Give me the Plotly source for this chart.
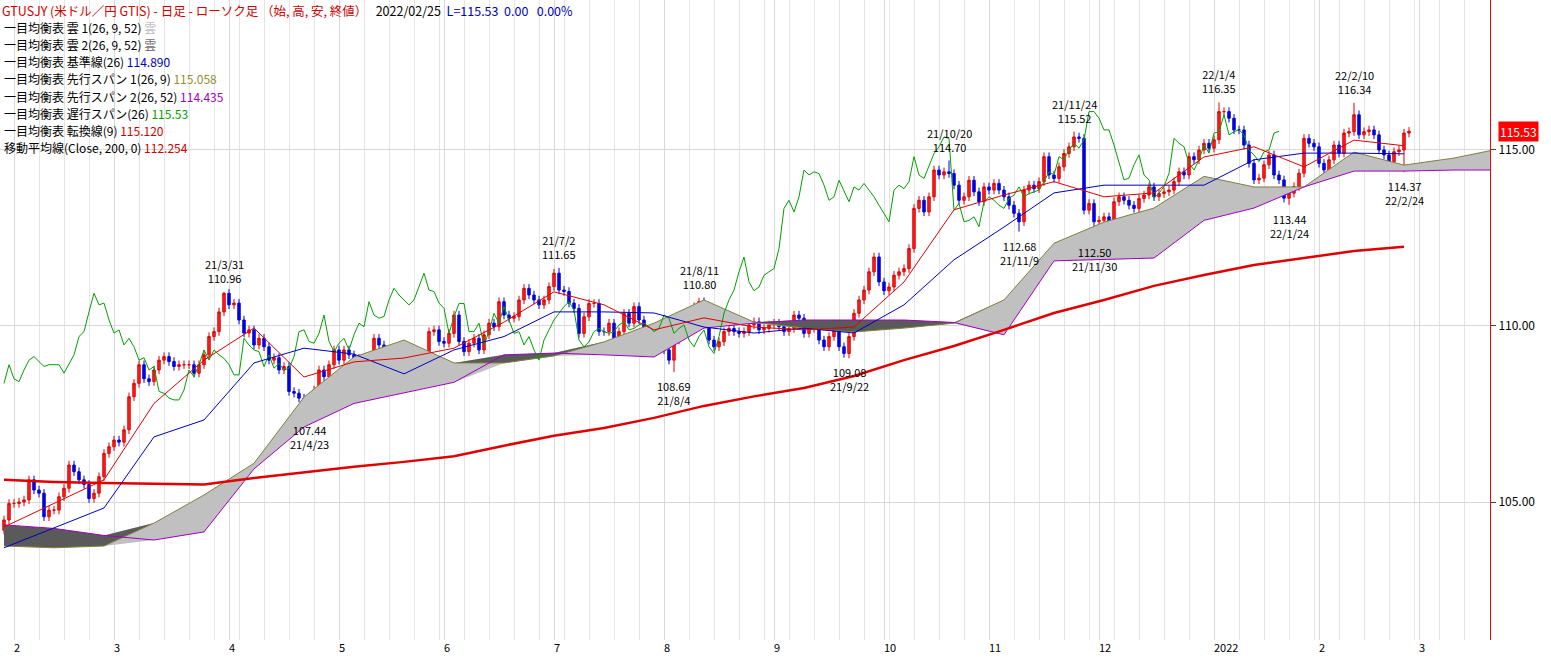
import plotly.graph_objects as go
import pandas as pd

# daily closes (USD/JPY), oldest first, last = 2022/02/25
closes = [
    104.49, 104.96, 104.96, 105.00, 105.06, 105.63, 105.34, 105.25, 104.58, 104.77,
    104.77, 105.15, 105.39, 106.05, 105.86, 105.63, 105.50, 105.10, 105.25, 105.72,
    106.38, 106.57, 106.76, 106.70, 107.05, 107.99, 108.37, 108.90, 108.50, 108.42,
    108.75, 109.03, 109.13, 108.99, 108.85, 108.90, 108.90, 108.90, 108.66, 108.90,
    109.18, 109.70, 109.84, 110.40, 110.93, 110.60, 110.65, 110.17, 109.80, 109.89,
    109.46, 109.65, 109.41, 109.03, 109.10, 108.75, 108.85, 108.14, 108.09, 107.95,
    107.90, 107.90, 108.18, 108.75, 108.56, 108.90, 109.32, 109.03, 109.32, 109.18,
    109.08, 108.90, 108.61, 108.61, 109.65, 109.46, 109.32, 109.27, 108.85, 109.18,
    108.80, 108.94, 108.75, 108.80, 109.13, 109.84, 109.89, 109.56, 109.51, 109.79,
    110.31, 109.56, 109.27, 109.51, 109.65, 109.32, 109.75, 110.08, 109.98, 110.69,
    110.31, 110.22, 110.27, 110.74, 111.07, 110.88, 110.74, 110.60, 110.74, 111.12,
    111.50, 111.02, 110.98, 110.65, 110.50, 109.79,
    110.26, 110.64, 110.64, 109.84, 109.84, 110.08, 109.46, 109.84, 110.36, 110.08,
    110.55, 110.17, 109.79, 109.84, 109.46, 109.70, 109.32, 109.03, 109.60, 109.89,
    110.17, 110.36, 110.55, 110.69, 110.45, 109.60, 109.41, 109.55, 109.84, 109.93,
    109.84, 109.79, 109.84, 110.03, 110.12, 109.89, 109.93, 110.03, 110.08, 109.98,
    109.84, 109.93, 110.31, 110.22, 109.79, 109.93, 110.03, 109.60, 109.41, 109.70,
    109.89, 109.41, 109.22, 109.70, 110.36, 110.74, 111.02, 111.54, 111.96,
    111.25, 111.00, 111.11, 111.44, 111.54, 111.63, 112.20, 113.34, 113.57, 113.24,
    113.67, 114.43, 114.29, 114.38, 114.33, 114.00, 113.57, 113.67, 114.14, 113.81,
    113.53, 113.95, 113.86, 114.05, 113.86, 113.67, 113.43, 113.20, 112.96, 113.86,
    114.00, 113.90, 114.10, 114.81, 114.29, 114.19, 114.52, 114.90, 115.09, 115.37,
    115.33, 113.29, 113.48, 112.96, 113.00, 113.10, 112.82, 113.53, 113.67, 113.57,
    113.43, 113.34, 113.62, 113.72, 113.95, 113.67, 113.76, 113.81, 113.86, 114.10,
    114.38,
    114.29, 114.81, 114.72, 115.00, 115.19, 115.05, 115.29, 116.09, 116.09, 115.90,
    115.57, 115.57, 115.14, 114.62, 114.15, 114.20, 114.58, 114.86, 114.29, 114.15,
    113.63, 113.77, 113.96, 114.34, 115.33, 115.19, 115.09, 114.62, 114.43, 114.72,
    115.14, 114.91, 115.48, 115.52, 116.00, 115.43, 115.52, 115.57, 115.43, 115.00,
    114.86, 114.67, 114.95, 115.00, 115.48, 115.53,
]
first_open = 104.20

# labelled highs / lows
extremes = {
    "2021-03-31": ("high", 110.96), "2021-04-23": ("low", 107.44),
    "2021-07-02": ("high", 111.65), "2021-08-04": ("low", 108.69),
    "2021-08-11": ("high", 110.80), "2021-09-22": ("low", 109.08),
    "2021-10-20": ("high", 114.70), "2021-11-09": ("low", 112.68),
    "2021-11-24": ("high", 115.52), "2021-11-30": ("low", 112.50),
    "2022-01-04": ("high", 116.35), "2022-01-24": ("low", 113.44),
    "2022-02-10": ("high", 116.34), "2022-02-24": ("low", 114.37),
}

# indicator lines read every 10 trading days
tenkan = [104.29, 104.97, 105.63, 107.80, 109.03, 109.94, 108.55, 108.98, 109.09, 109.37,
          110.11, 110.97, 110.60, 109.89, 110.23, 109.97, 109.89, 109.97, 111.25, 113.30,
          113.72, 114.10, 113.67, 113.78, 114.80, 115.09, 114.52, 115.28, 115.12]
kijun = [103.70, 104.26, 104.83, 106.85, 107.33, 108.95, 109.37, 109.20, 108.64, 109.32,
         109.70, 110.40, 110.40, 110.37, 109.97, 109.80, 109.94, 109.80, 110.60, 111.88,
         112.81, 113.78, 114.00, 114.00, 114.00, 114.72, 114.91, 114.91, 114.89]
span_a = [103.75, 103.70, 103.75, 104.40, 105.20, 106.10, 107.98, 109.12, 109.60, 108.95,
          108.95, 109.15, 109.55, 110.08, 110.74, 110.11, 109.94, 109.83, 109.94, 110.08,
          110.74, 112.35, 112.95, 113.35, 114.25, 113.95, 113.95, 114.94, 114.57, 114.77,
          115.06]
span_b = [104.35, 104.25, 104.05, 103.92, 104.15, 105.94, 107.13, 107.80, 108.10, 108.40,
          109.18, 109.23, 109.18, 109.12, 109.94, 110.08, 110.17, 110.17, 110.17, 110.10,
          109.75, 111.85, 111.88, 111.93, 113.00, 113.35, 113.95, 114.40, 114.40, 114.43,
          114.43]
ma200 = [105.63, 105.57, 105.54, 105.52, 105.50, 105.68, 105.85, 106.00, 106.14, 106.30,
         106.60, 106.88, 107.10, 107.39, 107.73, 108.00, 108.24, 108.58, 109.03, 109.43,
         109.89, 110.37, 110.74, 111.14, 111.45, 111.73, 111.93, 112.13, 112.25]

n = len(closes)
idx = list(range(n))
dates = pd.bdate_range(end="2022-02-25", periods=n)
all_dates = pd.bdate_range(start=dates[0], periods=n + 25)
date_pos = {d.strftime("%Y-%m-%d"): i for i, d in enumerate(dates)}

opens = [first_open] + closes[:-1]
highs = [max(o, c) + 0.12 for o, c in zip(opens, closes)]
lows = [min(o, c) - 0.12 for o, c in zip(opens, closes)]
for d, (kind, v) in extremes.items():
    i = date_pos[d]
    if kind == "high":
        highs[i] = v
    else:
        lows[i] = v

step = 10
def xs(arr):
    return [i * step for i in range(len(arr))]

upper = [max(a, b) for a, b in zip(span_a, span_b)]
lower = [min(a, b) for a, b in zip(span_a, span_b)]

fig = go.Figure()
fig.add_trace(go.Scatter(x=xs(lower), y=lower, mode="lines", line=dict(width=0), hoverinfo="skip"))
fig.add_trace(go.Scatter(x=xs(upper), y=upper, mode="lines", line=dict(width=0), fill="tonexty",
                         fillcolor="#c0c0c0", hoverinfo="skip"))
fig.add_trace(go.Scatter(x=xs(span_a), y=span_a, mode="lines", line=dict(width=0), hoverinfo="skip"))
fig.add_trace(go.Scatter(x=xs(upper), y=upper, mode="lines", line=dict(width=0), fill="tonexty",
                         fillcolor="#5a5a5a", hoverinfo="skip"))
fig.add_trace(go.Scatter(x=xs(span_a), y=span_a, mode="lines", line=dict(color="#808040", width=1)))
fig.add_trace(go.Scatter(x=xs(span_b), y=span_b, mode="lines", line=dict(color="#a000c0", width=1)))
fig.add_trace(go.Scatter(x=xs(ma200), y=ma200, mode="lines", line=dict(color="#e00000", width=2.5)))
fig.add_trace(go.Scatter(x=[i - 26 for i in idx[26:]], y=closes[26:], mode="lines",
                         line=dict(color="#00a000", width=1)))
fig.add_trace(go.Scatter(x=xs(kijun), y=kijun, mode="lines", line=dict(color="#0000c0", width=1)))
fig.add_trace(go.Scatter(x=xs(tenkan), y=tenkan, mode="lines", line=dict(color="#e00000", width=1)))
fig.add_trace(go.Candlestick(
    x=idx, open=opens, high=highs, low=lows, close=closes, whiskerwidth=0,
    increasing=dict(line=dict(color="#e00000", width=1), fillcolor="#ff2020"),
    decreasing=dict(line=dict(color="#0000e0", width=1), fillcolor="#0000e0"),
))

# extreme labels
for d, (kind, v) in extremes.items():
    i = date_pos[d]
    lab = d[2:].replace("-0", "-").replace("-", "/")
    if kind == "high":
        txt, ya, ys = lab + "<br>" + f"{v:.2f}", "bottom", 4
    else:
        txt, ya, ys = f"{v:.2f}" + "<br>" + lab, "top", -4
    fig.add_annotation(x=i, y=v, text=txt, showarrow=False, yanchor=ya, yshift=ys,
                       font=dict(size=11, color="#000000", family="Noto Sans CJK JP"))

# legend text
F = "Noto Sans CJK JP"
legend_lines = [
    '<span style="color:#d00000">GTUSJY (米ドル／円 GTIS) - 日足 - ローソク足 （始, 高, 安, 終値）</span>'
    '   2022/02/25  <span style="color:#0000c0">L=115.53  0.00   0.00%</span>',
    '一目均衡表 雲 1(26, 9, 52) <span style="color:#c0c0c0">雲</span>',
    '一目均衡表 雲 2(26, 9, 52) <span style="color:#707070">雲</span>',
    '一目均衡表 基準線(26) <span style="color:#0000c0">114.890</span>',
    '一目均衡表 先行スパン 1(26, 9) <span style="color:#909030">115.058</span>',
    '一目均衡表 先行スパン 2(26, 52) <span style="color:#a000c0">114.435</span>',
    '一目均衡表 遅行スパン(26) <span style="color:#00a000">115.53</span>',
    '一目均衡表 転換線(9) <span style="color:#d00000">115.120</span>',
    '移動平均線(Close, 200, 0) <span style="color:#d00000">112.254</span>',
]
for k, t in enumerate(legend_lines):
    fig.add_annotation(xref="paper", yref="paper", x=0.0, y=1 - (10 + k * 17.2) / 640,
                       xanchor="left", yanchor="middle", showarrow=False, text=t,
                       font=dict(size=12.5 if k == 0 else 12, family=F, color="#000000"),
                       xshift=2 if k else 0)

fig.add_annotation(xref="paper", x=1.0, y=115.53, xanchor="left", xshift=8, showarrow=False,
                   text="115.53", bgcolor="#ff0000", font=dict(color="white", size=12, family=F))

# month ticks
tickvals, ticktext = [], []
for i in range(1, len(all_dates)):
    if all_dates[i].month != all_dates[i - 1].month:
        tickvals.append(i)
        m = all_dates[i].month
        ticktext.append(str(all_dates[i].year) if m == 1 else str(m))
mondays = [i for i, d in enumerate(all_dates) if d.weekday() == 0]

fig.update_layout(
    width=1551, height=672, showlegend=False,
    paper_bgcolor="white", plot_bgcolor="white",
    margin=dict(l=0, r=61, t=0, b=32),
    xaxis=dict(range=[-0.8, 297.2], rangeslider=dict(visible=False),
               tickvals=tickvals, ticktext=ticktext, ticklabelposition="outside right",
               showgrid=True, gridcolor="#d8d8d8", zeroline=False,
               tickfont=dict(size=11, family=F, color="#000"),
               minor=dict(tickvals=mondays, showgrid=True, gridcolor="#e4e4e4")),
    yaxis=dict(range=[101.08, 119.26], side="right", tickvals=[105, 110, 115],
               ticktext=["105.00", "110.00", "115.00"], ticks="outside", ticklen=5,
               showline=True, linecolor="#ff0000", linewidth=1, gridcolor="#d8d8d8",
               zeroline=False, tickfont=dict(size=12, family=F, color="#000")),
)

fig.write_html("out.html", config={"displayModeBar": False},
               post_script="document.body.style.margin='0';")
